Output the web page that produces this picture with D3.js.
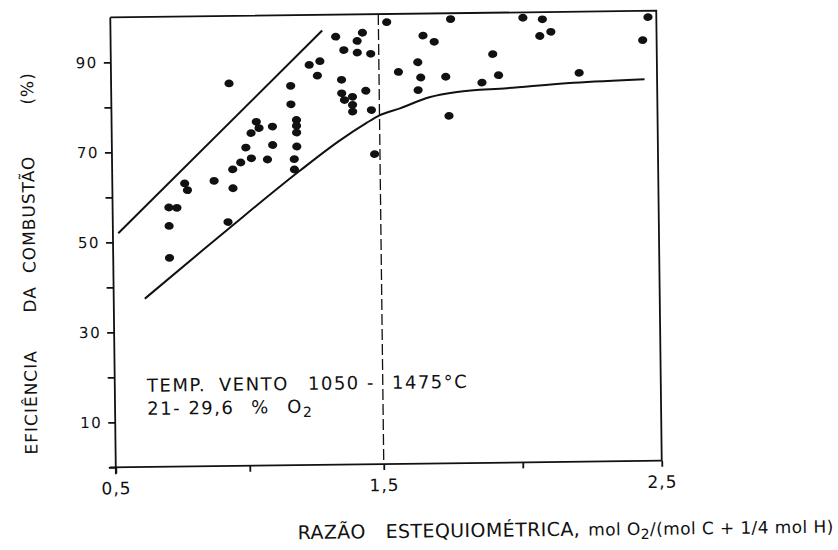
<!DOCTYPE html>
<html>
<head>
<meta charset="utf-8">
<script src="https://cdn.jsdelivr.net/npm/d3@7"></script>
<style>
  body { margin: 0; background: #fff; }
  svg text { fill: #111; }
</style>
</head>
<body>
<svg id="chart" width="838" height="550"></svg>
<script>
// Razão estequiométrica (x) e eficiência da combustão em % (y) de cada ensaio
const ratio = [
  0.71, 0.71, 0.71, 0.74, 0.77, 0.78, 0.88, 0.93, 0.94, 0.95, 0.95, 0.98,
  1.00, 1.02, 1.02, 1.04, 1.05, 1.08, 1.10, 1.10, 1.17, 1.17, 1.18, 1.18,
  1.19, 1.19, 1.19, 1.19, 1.24, 1.27, 1.28, 1.34, 1.36, 1.36, 1.37, 1.37,
  1.40, 1.40, 1.40, 1.42, 1.42, 1.44, 1.45, 1.47, 1.47, 1.48, 1.53, 1.57,
  1.64, 1.64, 1.65, 1.66, 1.70, 1.74, 1.75, 1.76, 1.87, 1.91, 1.93, 2.02,
  2.08, 2.09, 2.12, 2.22, 2.45, 2.47
];
const efficiency = [
  46.4, 53.5, 57.6, 57.5, 62.9, 61.4, 63.4, 54.2, 85.0, 65.9, 61.7, 67.4,
  70.7, 68.3, 73.9, 76.4, 75.0, 68.0, 71.2, 75.3, 80.2, 84.3, 65.7, 68.0,
  75.4, 70.8, 76.7, 73.9, 88.9, 86.5, 89.7, 95.1, 82.5, 85.5, 92.1, 81.0,
  81.7, 78.4, 79.9, 94.1, 91.5, 95.9, 83.0, 78.7, 91.2, 68.9, 98.2, 87.1,
  83.0, 89.2, 85.8, 95.1, 93.7, 85.9, 77.2, 98.7, 84.5, 90.8, 86.1, 98.8,
  94.7, 98.4, 95.6, 86.4, 93.5, 98.6
];

// Limite superior (reta) e limite inferior (curva) da faixa de resultados
const upperRatio = [0.52, 1.29];
const upperEff   = [52.0, 96.5];
const lowerRatio = [0.616, 0.836, 0.95, 1.2, 1.35, 1.45, 1.5, 1.574, 1.68, 1.78, 1.96, 2.2, 2.455];
const lowerEff   = [37.4, 48.1, 53.6, 65.4, 72.0, 75.8, 77.5, 79.0, 81.4, 82.5, 83.2, 84.2, 84.8];

// Razão estequiométrica = 1,5 (linha tracejada)
const markerRatio = [1.5];

// Marcações dos eixos
const xTicks     = [0.5, 1.0, 1.5, 2.0, 2.5];
const xTickText  = ["0,5", "", "1,5", "", "2,5"];
const yTicks     = [0, 10, 20, 30, 40, 50, 60, 70, 80, 90];
const yTickText  = ["", "10", "", "30", "", "50", "", "70", "", "90"];

const svg = d3.select("#chart");
svg.append("rect").attr("width", 838).attr("height", 550).attr("fill", "#fff");

const x = d3.scaleLinear().domain([0.5, 1.5, 2.5]).range([113, 381, 659]);
const y = d3.scaleLinear().domain([0, 100]).range([464, 14]);

// the hand-drawn sheet sits slightly tilted on the page
const g = svg.append("g").attr("transform", "rotate(-0.7,389,238)");

const INK = "#111";
const FONT = "'DejaVu Sans', sans-serif";

// frame: top and right edges
g.append("path")
  .attr("d", `M${x(0.5)},${y(100)}H${x(2.5)}V${y(0)}`)
  .attr("fill", "none").attr("stroke", INK).attr("stroke-width", 1.8);

// y axis
const yAxis = g.append("g")
  .attr("transform", `translate(${x(0.5)},0)`)
  .call(d3.axisLeft(y).tickValues(yTicks).tickSize(7).tickSizeOuter(0).tickPadding(6)
    .tickFormat((d, i) => yTickText[i]));
yAxis.select(".domain").attr("d", `M0,${y(100)}V${y(0) + 7}`);

// x axis
const xAxis = g.append("g")
  .attr("transform", `translate(0,${y(0)})`)
  .call(d3.axisBottom(x).tickValues(xTicks).tickSize(6).tickSizeOuter(0).tickPadding(9)
    .tickFormat((d, i) => xTickText[i]));
xAxis.select(".domain").attr("d", `M${x(0.5) - 6},0H${x(2.5)}`);

[yAxis, xAxis].forEach(a => {
  a.attr("font-family", FONT).attr("font-size", null);
  a.selectAll("path, line").attr("stroke", INK).attr("stroke-width", 1.8);
  a.selectAll("text").attr("fill", INK);
});
yAxis.selectAll("text").attr("font-size", 15).attr("letter-spacing", 1.5);
xAxis.selectAll("text").attr("font-size", 17).attr("letter-spacing", 1);

// dashed reference line
g.selectAll("line.marker").data(markerRatio).join("line")
  .attr("class", "marker")
  .attr("x1", d => x(d)).attr("x2", d => x(d))
  .attr("y1", y(100)).attr("y2", y(0))
  .attr("stroke", INK).attr("stroke-width", 1.3)
  .attr("stroke-dasharray", "11,4");

// envelope lines
const upperLine = d3.line().x(d => x(d[0])).y(d => y(d[1]));
g.append("path")
  .attr("d", upperLine(upperRatio.map((r, i) => [r, upperEff[i]])))
  .attr("fill", "none").attr("stroke", INK).attr("stroke-width", 2);

const lowerLine = d3.line().x(d => x(d[0])).y(d => y(d[1])).curve(d3.curveMonotoneX);
g.append("path")
  .attr("d", lowerLine(lowerRatio.map((r, i) => [r, lowerEff[i]])))
  .attr("fill", "none").attr("stroke", INK).attr("stroke-width", 2);

// experimental points
g.selectAll("ellipse.pt").data(ratio.map((r, i) => [r, efficiency[i]])).join("ellipse")
  .attr("class", "pt")
  .attr("cx", d => x(d[0])).attr("cy", d => y(d[1]))
  .attr("rx", 4.6).attr("ry", 3.9)
  .attr("fill", INK);

// test conditions note
const noteX = x(0.62), noteY = y(16.7);
const note = g.append("text").attr("font-family", FONT).attr("font-size", 18)
  .attr("letter-spacing", 1.5).attr("fill", INK);
[["TEMP.", 0], ["VENTO", 72], ["1050 -", 161], ["1475°C", 245]].forEach(([t, dx]) =>
  note.append("tspan").attr("x", noteX + dx).attr("y", noteY).text(t));
const note2 = g.append("text").attr("font-family", FONT).attr("font-size", 18)
  .attr("letter-spacing", 1.5).attr("fill", INK);
note2.append("tspan").attr("x", noteX).attr("y", noteY + 23).text("21- 29,6");
note2.append("tspan").attr("x", noteX + 104).attr("y", noteY + 23).text("%");
note2.append("tspan").attr("x", noteX + 140).attr("y", noteY + 23).text("O");
note2.append("tspan").attr("dy", 4).attr("font-size", 14).text("2");

// y axis title
const yTitle = [["EFICIÊNCIA", 398], ["DA", 295], ["COMBUSTÃO", 210], ["(%)", 84]];
yTitle.forEach(([t, cy]) =>
  g.append("text")
    .attr("transform", `translate(35,${cy}) rotate(-90)`)
    .attr("text-anchor", "middle")
    .attr("font-family", FONT).attr("font-size", 17).attr("letter-spacing", 1)
    .attr("fill", INK).text(t));

// x axis title
const xt = g.append("text").attr("font-family", FONT).attr("font-size", 19)
  .attr("letter-spacing", 0.4).attr("fill", INK).attr("y", 538);
xt.append("tspan").attr("x", 294).text("RAZÃO");
xt.append("tspan").attr("x", 382).text("ESTEQUIOMÉTRICA,");
xt.append("tspan").attr("dx", 8).attr("font-size", 17).text("mol O");
xt.append("tspan").attr("dy", 4).attr("font-size", 14).text("2");
xt.append("tspan").attr("dy", -4).attr("font-size", 17).text("/(mol C + 1/4 mol H)");
</script>
</body>
</html>
